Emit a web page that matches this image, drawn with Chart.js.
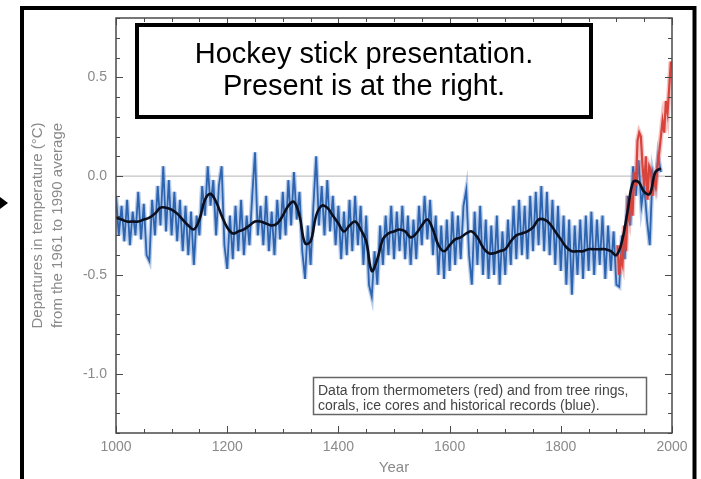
<!DOCTYPE html>
<html>
<head>
<meta charset="utf-8">
<script src="https://cdn.jsdelivr.net/npm/chart.js@4.4.1/dist/chart.umd.min.js"></script>
<style>
  html, body { margin: 0; padding: 0; background: #fff; overflow: hidden; }
  #wrap { position: relative; width: 701px; height: 479px; }
</style>
</head>
<body>
<div id="wrap"><canvas id="c" width="701" height="479"></canvas></div>
<script>
// proxy (blue) reconstruction, one value every 5 years from 1000 to 1980
const proxyStart = 1000;
const proxyStep = 5;
const proxy = [
    -0.10,-0.30,-0.15,-0.33,-0.12,-0.35,-0.18,-0.30,-0.08,-0.32,
    -0.14,-0.40,-0.43,-0.12,-0.30,-0.05,-0.25, 0.05,-0.28,-0.02,
    -0.30,-0.08,-0.33,-0.12,-0.38,-0.15,-0.40,-0.18,-0.45,-0.20,
    -0.30,-0.05,-0.20, 0.05,-0.15,-0.02,-0.30,-0.05, 0.05,-0.35,
    -0.47,-0.20,-0.42,-0.15,-0.38,-0.12,-0.40,-0.20,-0.35,-0.10,
     0.12,-0.30,-0.15,-0.35,-0.10,-0.38,-0.18,-0.40,-0.12,-0.32,
    -0.08,-0.30,-0.02,-0.25, 0.02,-0.22,-0.08,-0.38,-0.52,-0.25,
    -0.45,-0.15, 0.10,-0.25,-0.05,-0.30,-0.02,-0.28,-0.10,-0.35,
    -0.15,-0.42,-0.18,-0.40,-0.12,-0.38,-0.10,-0.35,-0.15,-0.45,
    -0.20,-0.55,-0.61,-0.38,-0.55,-0.25,-0.45,-0.20,-0.40,-0.15,
    -0.42,-0.18,-0.38,-0.15,-0.42,-0.20,-0.45,-0.22,-0.42,-0.15,
    -0.35,-0.10,-0.32,-0.12,-0.40,-0.20,-0.50,-0.25,-0.52,-0.22,
    -0.48,-0.18,-0.45,-0.20,-0.42,-0.15,-0.07,-0.40,-0.55,-0.18,
    -0.45,-0.15,-0.50,-0.22,-0.52,-0.25,-0.50,-0.20,-0.55,-0.28,
    -0.50,-0.22,-0.45,-0.15,-0.42,-0.12,-0.40,-0.15,-0.42,-0.10,
    -0.38,-0.08,-0.35,-0.05,-0.38,-0.08,-0.40,-0.12,-0.45,-0.15,
    -0.48,-0.20,-0.55,-0.22,-0.60,-0.25,-0.50,-0.22,-0.52,-0.20,
    -0.48,-0.18,-0.50,-0.22,-0.45,-0.20,-0.52,-0.25,-0.48,-0.28,
    -0.55,-0.56,-0.30,-0.42,-0.10,-0.25, 0.05,-0.10, 0.08,-0.15,
    -0.05,-0.22,-0.35, 0.02,-0.05, 0.10, 0.02
];

// smoothed curve (black), one value every 10 years from 1000 to 1980
const smoothStart = 1000;
const smoothStep = 10;
const smooth = [
    -0.21,-0.22,-0.23,-0.23,-0.23,-0.22,-0.21,-0.19,-0.16,-0.16,
    -0.17,-0.19,-0.22,-0.25,-0.27,-0.22,-0.12,-0.09,-0.13,-0.20,
    -0.26,-0.29,-0.28,-0.27,-0.25,-0.23,-0.23,-0.24,-0.25,-0.24,
    -0.20,-0.15,-0.13,-0.20,-0.34,-0.33,-0.20,-0.15,-0.16,-0.20,
    -0.24,-0.28,-0.25,-0.23,-0.27,-0.33,-0.48,-0.42,-0.32,-0.29,
    -0.28,-0.27,-0.28,-0.31,-0.29,-0.25,-0.22,-0.27,-0.35,-0.38,
    -0.35,-0.32,-0.31,-0.29,-0.28,-0.31,-0.36,-0.39,-0.39,-0.38,
    -0.37,-0.33,-0.30,-0.29,-0.28,-0.26,-0.22,-0.22,-0.24,-0.28,
    -0.32,-0.36,-0.38,-0.38,-0.38,-0.37,-0.37,-0.37,-0.37,-0.38,
    -0.40,-0.33,-0.18,-0.03,-0.03,-0.08,-0.09, 0.02, 0.04
];

// thermometer record (red), one value every 3 years from 1902 to 1998
const thermoStart = 1902;
const thermoStep = 3;
const thermo = [
    -0.35,-0.50,-0.42,-0.45,-0.25,-0.38,-0.18,-0.22,-0.10,-0.20,
     0.02,-0.05, 0.18, 0.22, 0.20, 0.05,-0.05, 0.10,-0.12, 0.05,
     0.03,-0.10,-0.02,-0.05, 0.05, 0.12, 0.20, 0.28, 0.22, 0.38,
     0.32, 0.45, 0.58
];

const xTicks = [1000, 1200, 1400, 1600, 1800, 2000];
const yTicks = [-1.0, -0.5, 0.0, 0.5];

const font = "'Liberation Sans', Arial, sans-serif";

function toPoints(values, start, step) {
    return values.map((v, i) => ({ x: start + i * step, y: v }));
}

const decor = {
    id: 'decor',
    afterDatasetsDraw(chart) {
        const { ctx, chartArea: a, scales: { x, y } } = chart;
        ctx.save();
        ctx.strokeStyle = '#4a4a4a';
        ctx.lineWidth = 1.5;
        ctx.strokeRect(a.left, a.top, a.right - a.left, a.bottom - a.top);

        // inward ticks on all four sides
        ctx.lineWidth = 1;
        ctx.beginPath();
        for (let k = -13; k <= 8; k++) {
            const py = Math.round(y.getPixelForValue(k / 10)) + 0.5;
            const len = k % 5 === 0 ? 7 : 4;
            ctx.moveTo(a.left, py); ctx.lineTo(a.left + len, py);
            ctx.moveTo(a.right, py); ctx.lineTo(a.right - len, py);
        }
        for (let yr = 1000; yr <= 2000; yr += 50) {
            const px = Math.round(x.getPixelForValue(yr)) + 0.5;
            const len = yr % 200 === 0 ? 7 : 4;
            ctx.moveTo(px, a.bottom); ctx.lineTo(px, a.bottom - len);
            ctx.moveTo(px, a.top); ctx.lineTo(px, a.top + len);
        }
        ctx.stroke();
        ctx.restore();
    },
    afterDraw(chart) {
        const ctx = chart.ctx;
        ctx.save();

        // outer frame, open at the bottom
        ctx.strokeStyle = '#000';
        ctx.lineWidth = 4;
        ctx.strokeRect(22, 8, 672.5, 500);

        // arrow head at the left edge
        ctx.fillStyle = '#000';
        ctx.beginPath();
        ctx.moveTo(0, 197); ctx.lineTo(8, 203); ctx.lineTo(0, 209);
        ctx.closePath();
        ctx.fill();

        // caption box
        ctx.fillStyle = '#fff';
        ctx.fillRect(137, 25, 454, 92);
        ctx.strokeRect(137, 25, 454, 92);
        ctx.fillStyle = '#000';
        ctx.font = `29px ${font}`;
        ctx.textAlign = 'center';
        ctx.textBaseline = 'alphabetic';
        ctx.fillText('Hockey stick presentation.', 364, 63);
        ctx.fillText('Present is at the right.', 364, 95);

        // data source box
        ctx.fillStyle = '#fff';
        ctx.fillRect(313.5, 377.5, 333, 37);
        ctx.strokeStyle = '#666';
        ctx.lineWidth = 1.5;
        ctx.strokeRect(313.5, 377.5, 333, 37);
        ctx.fillStyle = '#444';
        ctx.font = `14px ${font}`;
        ctx.textAlign = 'left';
        ctx.fillText('Data from thermometers (red) and from tree rings,', 318, 395);
        ctx.fillText('corals, ice cores and historical records (blue).', 318, 410);
        ctx.restore();
    }
};

new Chart(document.getElementById('c'), {
    type: 'line',
    data: {
        datasets: [
            {
                label: 'smoothed',
                data: toPoints(smooth, smoothStart, smoothStep),
                borderColor: '#0b0f1e',
                borderWidth: 2.6,
                tension: 0.4,
                pointRadius: 0,
                order: 0
            },
            {
                label: 'thermometers',
                data: toPoints(thermo, thermoStart, thermoStep),
                borderColor: '#d8433c',
                borderWidth: 2.2,
                pointRadius: 0,
                order: 1
            },
            {
                label: 'thermometers halo',
                data: toPoints(thermo, thermoStart, thermoStep),
                borderColor: 'rgba(226, 110, 110, 0.4)',
                borderWidth: 5,
                pointRadius: 0,
                order: 2
            },
            {
                label: 'proxy',
                data: toPoints(proxy, proxyStart, proxyStep),
                borderColor: '#2d64b0',
                borderWidth: 1.8,
                pointRadius: 0,
                order: 3
            },
            {
                label: 'proxy halo',
                data: toPoints(proxy, proxyStart, proxyStep),
                borderColor: 'rgba(100, 145, 210, 0.45)',
                borderWidth: 4.5,
                pointRadius: 0,
                order: 4
            },
            {
                label: 'zero',
                data: [{ x: 1000, y: 0 }, { x: 2000, y: 0 }],
                borderColor: '#b4b4b4',
                borderWidth: 1,
                pointRadius: 0,
                order: 5
            }
        ]
    },
    options: {
        responsive: false,
        devicePixelRatio: 1,
        animation: false,
        parsing: false,
        layout: { padding: { left: 0, right: 29, top: 18, bottom: 0 } },
        plugins: { legend: { display: false }, tooltip: { enabled: false } },
        scales: {
            x: {
                type: 'linear',
                min: 1000,
                max: 2000,
                grid: { display: false, drawTicks: false },
                border: { display: false },
                afterBuildTicks: s => { s.ticks = xTicks.map(v => ({ value: v })); },
                afterFit: s => { s.height = 46; },
                ticks: {
                    color: '#8a8a8a',
                    font: { family: font, size: 14 },
                    padding: 6,
                    maxRotation: 0,
                    autoSkip: false,
                    callback: v => String(v)
                },
                title: {
                    display: true,
                    text: 'Year',
                    color: '#8a8a8a',
                    font: { family: font, size: 15 },
                    padding: { top: 0, bottom: 2 }
                }
            },
            y: {
                type: 'linear',
                min: -1.3,
                max: 0.8,
                grid: { display: false, drawTicks: false },
                border: { display: false },
                afterBuildTicks: s => { s.ticks = yTicks.map(v => ({ value: v })); },
                afterFit: s => { s.width = 116; },
                ticks: {
                    color: '#8a8a8a',
                    font: { family: font, size: 14 },
                    padding: 9,
                    callback: v => v.toFixed(1)
                },
                title: {
                    display: true,
                    text: ['Departures in temperature (°C)', 'from the 1961 to 1990 average'],
                    color: '#8a8a8a',
                    font: { family: font, size: 15, lineHeight: 1.333 },
                    padding: { top: 28, bottom: 0 }
                }
            }
        }
    },
    plugins: [decor]
});
</script>
</body>
</html>
